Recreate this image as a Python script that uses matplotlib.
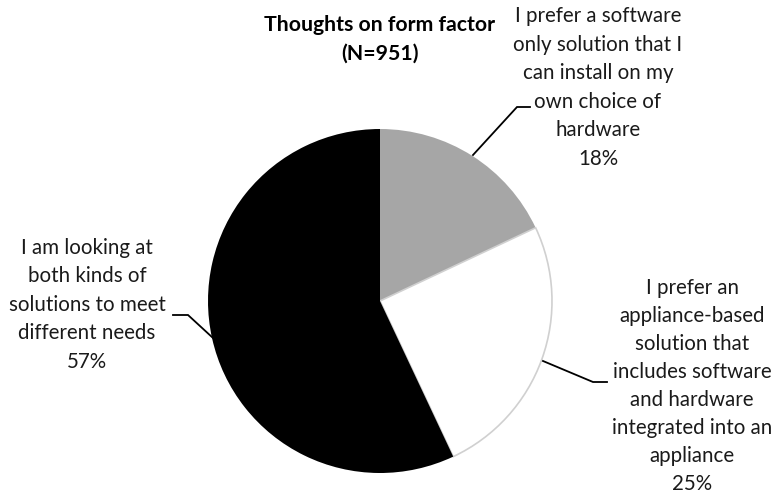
import matplotlib
matplotlib.use("Agg")
import matplotlib.pyplot as plt

categories = [
    "I prefer a software\nonly solution that I\ncan install on my\nown choice of\nhardware",
    "I prefer an\nappliance-based\nsolution that\nincludes software\nand hardware\nintegrated into an\nappliance",
    "I am looking at\nboth kinds of\nsolutions to meet\ndifferent needs",
]
values = [18, 25, 57]
colors = ["#A6A6A6", "#FFFFFF", "#000000"]
title = "Thoughts on form factor\n(N=951)"

plt.rcParams['font.family'] = ['Lato', 'DejaVu Sans']

W, H = 779, 496
fig = plt.figure(figsize=(W / 100, H / 100), dpi=100)
cx, cy, R = 380, 301, 172
ax = fig.add_axes([(cx - R) / W, (H - cy - R) / H, 2 * R / W, 2 * R / H])
wedges, _ = ax.pie(values, colors=colors, startangle=90, counterclock=False,
                   radius=1, wedgeprops=dict(linewidth=0))
wedges[1].set_edgecolor("#D0D0D0")
wedges[1].set_linewidth(1.2)
ax.set_xlim(-1, 1)
ax.set_ylim(-1, 1)
ax.set_aspect('equal')
ax.axis('off')

def d(px, py):
    return ((px - cx) / R, (cy - py) / R)

fs = 14.8
labels = [f"{c}\n{v}%" for c, v in zip(categories, values)]
# last-line baseline positions
pos = [(598, 165), (692, 490), (87, 368)]
spacing = [1.535, 1.5, 1.535]
for lab, (px, py), ls in zip(labels, pos, spacing):
    x, y = d(px, py)
    ax.text(x, y, lab, ha='center', va='baseline', fontsize=fs, color='#1a1a1a',
            linespacing=ls, multialignment='center')

leaders = [
    [(473, 155), (517, 107), (530, 107)],
    [(543, 361), (593, 382), (607, 382)],
    [(213, 338), (188, 315), (173, 315)],
]
for pts in leaders:
    xs, ys = zip(*[d(*p) for p in pts])
    ax.plot(xs, ys, color='black', lw=1.3, clip_on=False, solid_joinstyle='miter')

fig.text(380 / W, 1 - 39.5 / H, title, ha='center', va='center', fontsize=15.3,
         fontweight='bold', linespacing=1.54)

fig.savefig("out.png", dpi=100)
